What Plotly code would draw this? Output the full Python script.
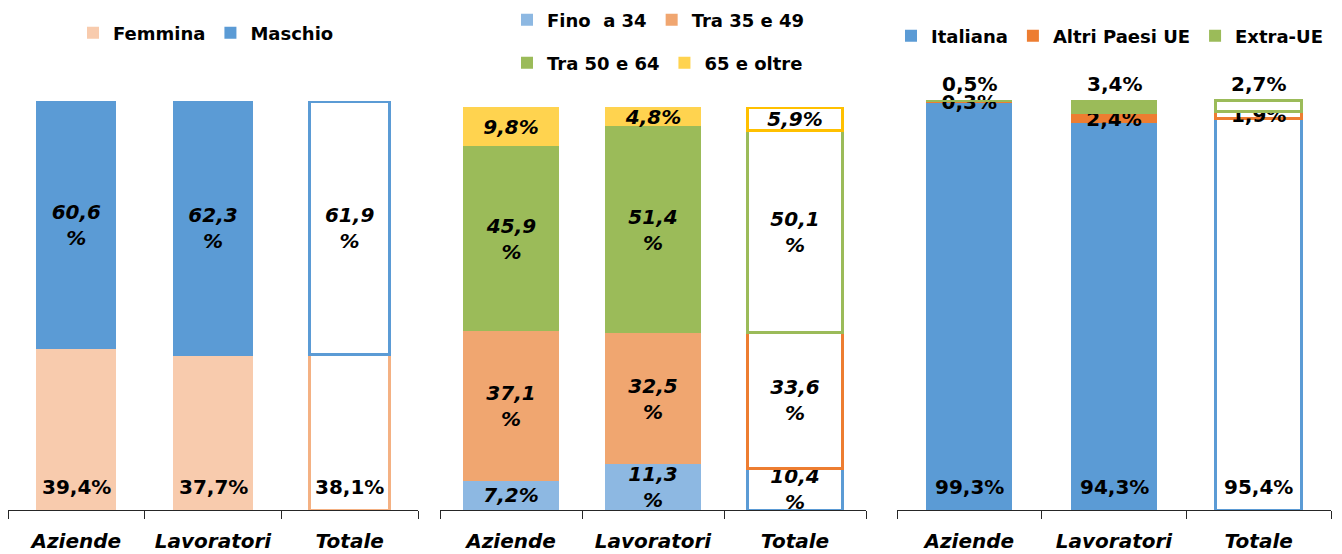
import plotly.graph_objects as go

categories = ["Aziende", "Lavoratori", "Totale"]

# Panel 1: genere (%)
femmina = [39.4, 37.7, 38.1]
maschio = [60.6, 62.3, 61.9]

# Panel 2: classi di età (%)
fino_34 = [7.2, 11.3, 10.4]
tra_35_49 = [37.1, 32.5, 33.6]
tra_50_64 = [45.9, 51.4, 50.1]
oltre_65 = [9.8, 4.8, 5.9]

# Panel 3: cittadinanza (%)
italiana = [99.3, 94.3, 95.4]
altri_ue = [0.3, 2.4, 1.9]
extra_ue = [0.5, 3.4, 2.7]

FONT = "DejaVu Sans"
W, H = 1342, 554


def pct(v, wrap=False):
    s = f"{v:.1f}".replace(".", ",")
    return s + ("<br>%" if wrap else "%")


def lab_font(italic):
    return dict(family=FONT, size=20, color="black", weight="bold",
                style="italic" if italic else "normal")


fig = go.Figure()


def ax(axis, kind):
    return kind if axis == 1 else f"{kind}{axis}"


def add_bar(name, vals, fill, edge, axis, legend, width, texts, italic):
    fig.add_trace(go.Bar(
        x=categories, y=vals, name=name,
        xaxis=ax(axis, "x"), yaxis=ax(axis, "y"),
        marker=dict(color=[fill, fill, "white"],
                    line=dict(color=edge, width=[0, 0, 3])),
        width=width,
        text=texts, textposition="inside" if texts else "none",
        insidetextanchor="middle",
        textangle=0, constraintext="none", cliponaxis=False,
        textfont=lab_font(italic),
        legend=legend, hoverinfo="skip",
    ))


def base_labels(vals, axis):
    # labels sitting near the base of the bottom segment
    for c, v in zip(categories, vals):
        fig.add_annotation(x=c, y=0, xref=ax(axis, "x"), yref=ax(axis, "y"),
                           text=pct(v), showarrow=False, yanchor="bottom",
                           yshift=9, font=lab_font(False))


# Panel 1
add_bar("Femmina", femmina, "#F8CBAD", "#F4B183", 1, "legend", 0.585, None, False)
add_bar("Maschio", maschio, "#5B9BD5", "#5B9BD5", 1, "legend", 0.585,
        [pct(v, True) for v in maschio], True)
base_labels(femmina, 1)

# Panel 2
for name, vals, fill, edge, leg in [
    ("Fino  a 34", fino_34, "#8DB8E2", "#5B9BD5", "legend2"),
    ("Tra 35 e 49", tra_35_49, "#F0A670", "#ED7D31", "legend2"),
    ("Tra 50 e 64", tra_50_64, "#9BBB59", "#9BBB59", "legend3"),
    ("65 e oltre", oltre_65, "#FFD34F", "#FFC000", "legend3"),
]:
    add_bar(name, vals, fill, edge, 2, leg, 0.67,
            [pct(v, v >= 10) for v in vals], True)

# Panel 3
add_bar("Italiana", italiana, "#5B9BD5", "#5B9BD5", 3, "legend4", 0.595, None, False)
add_bar("Altri Paesi UE", altri_ue, "#ED7D31", "#ED7D31", 3, "legend4", 0.595,
        [pct(v) for v in altri_ue], False)
add_bar("Extra-UE", extra_ue, "#9BBB59", "#9BBB59", 3, "legend4", 0.595, None, False)
base_labels(italiana, 3)

# Extra-UE labels above the top of each stack
tops = [a + b + c for a, b, c in zip(italiana, altri_ue, extra_ue)]
for c, t, v in zip(categories, tops, extra_ue):
    fig.add_annotation(x=c, y=t, xref="x3", yref="y3", text=pct(v),
                       showarrow=False, yanchor="bottom", yshift=2,
                       font=lab_font(False))

xstyle = dict(showline=True, linecolor="#262626", linewidth=1, ticks="outside",
              tickson="boundaries", ticklen=8, tickcolor="#262626", showgrid=False,
              ticklabelstandoff=13, automargin=False,
              tickfont=dict(family=FONT, size=20, color="black", weight="bold",
                            style="italic"), fixedrange=True)
ystyle = dict(visible=False, showgrid=False, zeroline=False, fixedrange=True,
              automargin=False)

legstyle = dict(orientation="h", xanchor="left", yanchor="middle",
                bgcolor="rgba(0,0,0,0)", traceorder="normal",
                font=dict(family=FONT, size=18, color="black", weight="bold"))

fig.update_layout(
    width=W, height=H,
    margin=dict(l=0, r=0, t=0, b=0, autoexpand=False),
    paper_bgcolor="white", plot_bgcolor="white",
    barmode="stack",
    xaxis=dict(domain=[8 / W, 418 / W], anchor="y", **xstyle),
    yaxis=dict(domain=[44 / H, 453 / H], anchor="x", range=[0, 100], **ystyle),
    xaxis2=dict(domain=[440 / W, 866 / W], anchor="y2", **xstyle),
    yaxis2=dict(domain=[44 / H, 447 / H], anchor="x2", range=[0, 100], **ystyle),
    xaxis3=dict(domain=[897 / W, 1331 / W], anchor="y3", **xstyle),
    yaxis3=dict(domain=[44 / H, 458 / H], anchor="x3", range=[0, 101], **ystyle),
    legend=dict(x=73 / W, y=1 - 33 / H, **legstyle),
    legend2=dict(x=507 / W, y=1 - 20 / H, **legstyle),
    legend3=dict(x=507 / W, y=1 - 63 / H, **legstyle),
    legend4=dict(x=891 / W, y=1 - 36 / H, **legstyle),
    showlegend=True,
)

fig.write_html("out.html")
